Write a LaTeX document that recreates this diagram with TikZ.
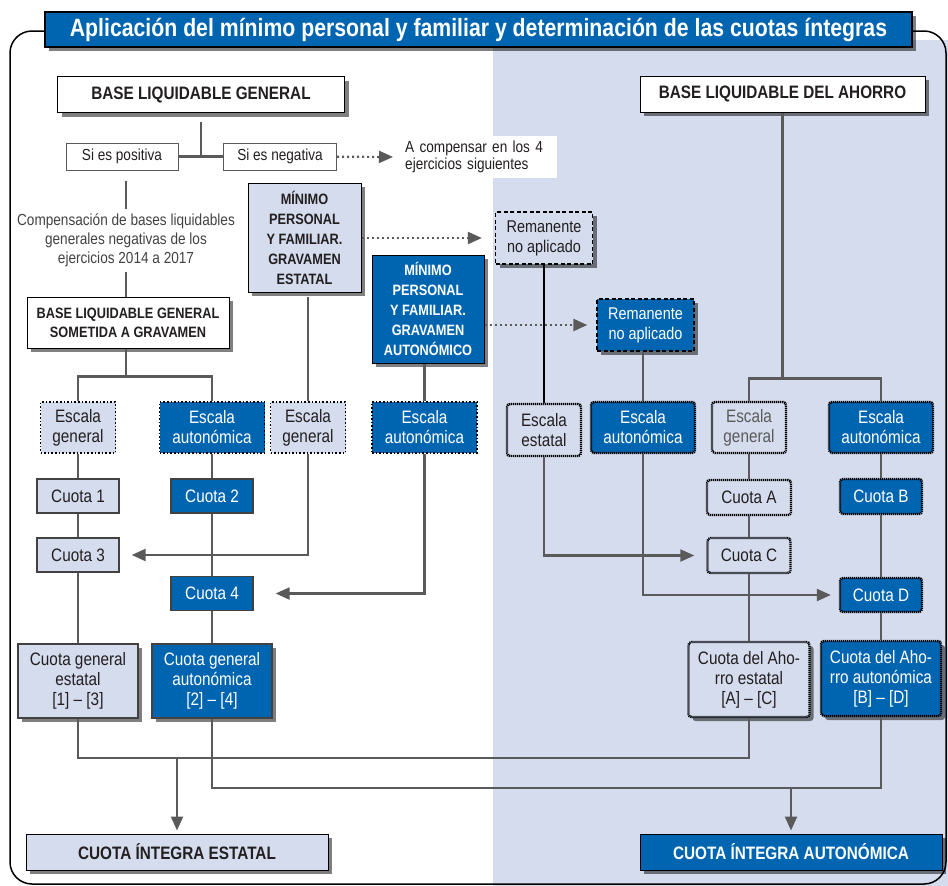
\documentclass[tikz,border=0pt]{standalone}
\usepackage{fontspec}
\setmainfont[FakeStretch=0.85]{Liberation Sans}
\usetikzlibrary{arrows.meta, positioning, shadows}
\definecolor{azul}{RGB}{0,101,177}
\definecolor{azulclaro}{RGB}{212,220,238}
\definecolor{gris}{RGB}{90,90,90}
\definecolor{tinta}{RGB}{35,31,32}
\newcommand{\letra}[2]{\fontsize{#1}{#2}\selectfont}
\tikzstyle{caja} = [draw=black, line width=1pt, inner sep=0pt, align=center, text=tinta, font=\letra{18}{20}]
\tikzstyle{sombra} = [drop shadow={shadow xshift=4pt, shadow yshift=-4pt, fill=black, opacity=0.5}]
\tikzstyle{blanca} = [caja, fill=white]
\tikzstyle{clara} = [caja, fill=azulclaro]
\tikzstyle{oscura} = [caja, fill=azul, text=white]
\tikzstyle{rotulo} = [font=\letra{18}{20}\bfseries]
\tikzstyle{minimo} = [font=\letra{15}{20}\bfseries, minimum width=112pt, minimum height=108pt]
\tikzstyle{punteado} = [line width=1.6pt, dash pattern=on 1.6pt off 2pt]
\tikzstyle{rayado} = [line width=1.3pt, dash pattern=on 4pt off 2.5pt]
\tikzstyle{granulado} = [line width=2.4pt, dash pattern=on 1.2pt off 0.8pt, rounded corners=3pt]
\tikzstyle{cuota} = [draw=tinta!85, line width=1.3pt]
\tikzstyle{linea} = [draw=gris, line width=2.2pt]
\tikzstyle{flecha} = [linea, -{Triangle[length=14pt, width=12pt]}]
\tikzstyle{flechapunteada} = [flecha, dash pattern=on 2.2pt off 2.8pt]
\begin{document}
\begin{tikzpicture}[x=1pt, y=-1pt]
	\useasboundingbox (0,0) rectangle (948,886);
	\fill[azulclaro] (493,40) rectangle (948,886);
	\draw[line width=1.5pt, rounded corners=22pt] (10,31) rectangle (946,884);
	\node[oscura, sombra, line width=1.2pt, minimum width=867pt, minimum height=35pt, font=\letra{25}{27}\bfseries] (titulo) at (478.5,29.5) {Aplicación del mínimo personal y familiar y determinación de las cuotas íntegras};
	\node[blanca, sombra, rotulo, minimum width=287pt, minimum height=36pt] (blg) at (201,94.5) {BASE LIQUIDABLE GENERAL};
	\node[blanca, sombra, rotulo, minimum width=285pt, minimum height=36pt] (bla) at (782.5,94) {BASE LIQUIDABLE DEL AHORRO};
	\node[blanca, draw=gris, font=\letra{16}{18}, minimum width=112pt, minimum height=27pt] (pos) at (122,156.5) {Si es positiva};
	\node[blanca, draw=gris, font=\letra{16}{18}, minimum width=113pt, minimum height=27pt] (neg) at (280,156.5) {Si es negativa};
	\node[fill=white, anchor=west, align=left, text=tinta, font=\letra{16}{17}, text width=147pt, inner sep=5pt, minimum height=40pt] (ejercicios) at (400,157) {A compensar en los 4\\ejercicios siguientes};
	\node[align=center, text=tinta!85, font=\letra{16}{19}, inner sep=0pt, minimum height=63pt] (compensa) at (126,240.5) {Compensación de bases liquidables\\generales negativas de los\\ejercicios 2014 a 2017};
	\node[blanca, sombra, font=\letra{15}{19}\bfseries, minimum width=202pt, minimum height=51pt] (blgs) at (128,322.5) {BASE LIQUIDABLE GENERAL\\SOMETIDA A GRAVAMEN};
	\node[clara, sombra, minimo, minimum width=113pt, minimum height=109pt] (mpfe) at (304.5,237.5) {MÍNIMO\\PERSONAL\\Y FAMILIAR.\\GRAVAMEN\\ESTATAL};
	\node[oscura, sombra, minimo] (mpfa) at (428,309) {MÍNIMO\\PERSONAL\\Y FAMILIAR.\\GRAVAMEN\\AUTONÓMICO};
	\node[clara, sombra, rayado, font=\letra{17}{20}, minimum width=97pt, minimum height=52pt] (rem1) at (544,238) {Remanente\\no aplicado};
	\node[oscura, sombra, rayado, font=\letra{17}{20}, minimum width=97pt, minimum height=52pt] (rem2) at (645.5,325) {Remanente\\no aplicado};
	\node[clara, punteado, minimum width=75pt, minimum height=51pt] (eg1) at (78,427.5) {Escala\\general};
	\node[oscura, punteado, minimum width=105pt, minimum height=51pt] (ea1) at (212,427.5) {Escala\\autonómica};
	\node[clara, punteado, minimum width=75pt, minimum height=51pt] (eg2) at (308,427.5) {Escala\\general};
	\node[oscura, punteado, minimum width=105pt, minimum height=51pt] (ea2) at (424.5,427.5) {Escala\\autonómica};
	\node[clara, cuota, minimum width=82pt, minimum height=34pt] (c1) at (78,496) {Cuota 1};
	\node[oscura, cuota, minimum width=82pt, minimum height=34pt] (c2) at (212,496) {Cuota 2};
	\node[clara, cuota, minimum width=82pt, minimum height=34pt] (c3) at (78,555) {Cuota 3};
	\node[oscura, cuota, minimum width=82pt, minimum height=34pt] (c4) at (212,593.5) {Cuota 4};
	\node[clara, sombra, cuota, minimum width=120pt, minimum height=74pt] (cge) at (78,681) {Cuota general\\estatal\\{}[1] – [3]};
	\node[oscura, sombra, cuota, minimum width=120pt, minimum height=74pt] (cga) at (212,681) {Cuota general\\autonómica\\{}[2] – [4]};
	\node[clara, granulado, minimum width=74pt, minimum height=52pt] (ee) at (544,430) {Escala\\estatal};
	\node[oscura, granulado, minimum width=104pt, minimum height=51pt] (ea3) at (643,427.5) {Escala\\autonómica};
	\node[clara, granulado, text=gris, minimum width=74pt, minimum height=51pt] (eg3) at (749,427.5) {Escala\\general};
	\node[oscura, granulado, minimum width=104pt, minimum height=51pt] (ea4) at (881,427.5) {Escala\\autonómica};
	\node[clara, granulado, minimum width=84pt, minimum height=35pt] (ca) at (749,497.5) {Cuota A};
	\node[oscura, granulado, minimum width=82pt, minimum height=35pt] (cb) at (881,496.5) {Cuota B};
	\node[clara, granulado, minimum width=83pt, minimum height=35pt] (cc) at (749,555.5) {Cuota C};
	\node[oscura, granulado, minimum width=82pt, minimum height=34pt] (cd) at (881,595) {Cuota D};
	\node[clara, sombra, granulado, minimum width=121pt, minimum height=75pt] (cae) at (749,679.5) {Cuota del Aho-\\rro estatal\\{}[A] – [C]};
	\node[oscura, sombra, granulado, minimum width=120pt, minimum height=75pt] (caa) at (881,678.5) {Cuota del Aho-\\rro autonómica\\{}[B] – [D]};
	\node[clara, sombra, rotulo, minimum width=302pt, minimum height=36pt] (cie) at (177,852) {CUOTA ÍNTEGRA ESTATAL};
	\node[oscura, sombra, rotulo, minimum width=302pt, minimum height=36pt] (cia) at (791,852) {CUOTA ÍNTEGRA AUTONÓMICA};
	\draw[linea] (blg.south) ++(0,9) -- (blg.south |- pos.east);
	\draw[linea] (pos) -- (neg);
	\draw[flechapunteada, shorten >=7pt] (neg) -- (ejercicios.west);
	\draw[linea] (compensa.north |- pos.south) ++(0,10) -- (compensa.north);
	\draw[linea] (compensa.south) -- (compensa.south |- blgs.north);
	\draw[linea] (blgs.south -| compensa.south) -- ++(0,28) coordinate (r1);
	\draw[linea] (eg1.north) |- (ea1.north |- r1) -- (ea1.north);
	\draw[linea] (eg1) -- (c1) -- (c3) -- (cge);
	\draw[linea] (ea1) -- (c2) -- (c4) -- (cga);
	\draw[linea] (eg2.north |- mpfe.south) ++(0,4) -- (eg2.north);
	\draw[linea] (ea2.north |- mpfa.south) -- (ea2.north);
	\draw[flecha, shorten >=12pt] (eg2.south) |- (c3.east);
	\draw[flecha, shorten >=22pt] (ea2.south) |- (c4.east);
	\draw[flechapunteada, shorten >=13pt] (mpfe.east |- rem1.west) -- (rem1.west);
	\draw[flechapunteada, shorten >=9pt] (mpfa.east |- rem2.west) -- (rem2.west);
	\draw[line width=2.2pt] (rem1.south) -- (ee.north);
	\draw[linea] (ea3.north |- rem2.south) -- (ea3.north);
	\draw[flecha, shorten >=12pt] (ee.south) |- (cc.west);
	\draw[flecha, shorten >=8pt] (ea3.south) |- (cd.west);
	\draw[linea] (bla.south) -- ++(0,266) coordinate (r2);
	\draw[linea] (eg3.north) |- (ea4.north |- r2) -- (ea4.north);
	\draw[linea] (eg3) -- (ca) -- (cc) -- (cae);
	\draw[linea] (ea4) -- (cb) -- (cd) -- (caa);
	\draw[linea] (cge.south) -- ++(0,39) coordinate (s1) -| (cae.south);
	\draw[linea] (cga.south) -- ++(0,69) coordinate (s2) -| (caa.south);
	\draw[flecha, shorten >=3pt] (cie.north |- s1) -- (cie.north);
	\draw[flecha, shorten >=3pt] (cia.north |- s2) -- (cia.north);
\end{tikzpicture}
\end{document}
